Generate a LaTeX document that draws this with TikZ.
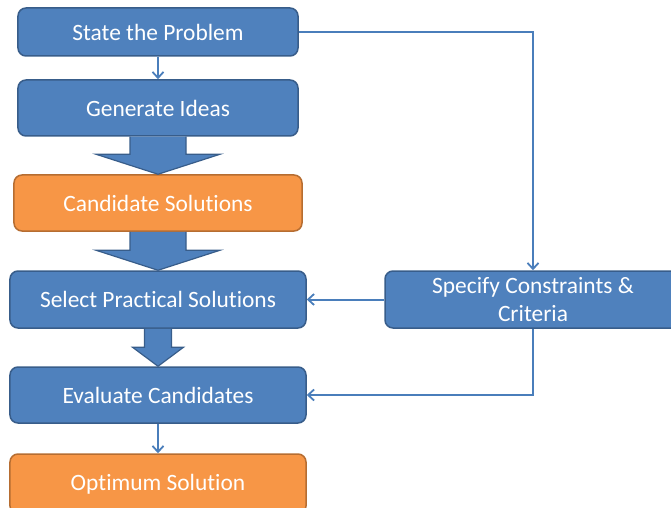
\documentclass[tikz,border=0pt]{standalone}
\usepackage{fontspec}
\setmainfont{Carlito}[Ligatures=NoCommon]
\usetikzlibrary{arrows.meta,calc}
\definecolor{bfill}{HTML}{4F81BD}
\definecolor{bdraw}{HTML}{385D8A}
\definecolor{ofill}{HTML}{F79646}
\definecolor{odraw}{HTML}{B66D31}
\definecolor{lcol}{HTML}{4A7EBB}
\tikzset{
  box/.style={rectangle, rounded corners=8bp, line width=1.5bp, text=white, font=\fontsize{23.5}{28}\selectfont, align=center, inner sep=0pt},
  bluebox/.style={box, fill=bfill, draw=bdraw},
  orangebox/.style={box, fill=ofill, draw=odraw},
  conn/.style={draw=lcol, line width=2bp, -{Straight Barb[length=6bp,width=11bp,line width=1.8bp]}},
  bigarr/.style={fill=bfill, draw=bdraw, line width=1.2bp, line join=miter}
}
\newcommand\fatarrow[5]{%
  \draw[bigarr] ($(#1)+(-#3,0)$) -- ($(#2)+(-#3,-#5)$) -- ($(#2)+(-#4,-#5)$) -- (#2)
    -- ($(#2)+(#4,-#5)$) -- ($(#2)+(#3,-#5)$) -- ($(#1)+(#3,0)$);}
\begin{document}
\begin{tikzpicture}[x=1bp,y=-1bp]
\useasboundingbox (0,0) rectangle (671,508);
\clip (0,0) rectangle (671,508);
\node[bluebox, minimum width=280bp, minimum height=48bp] (s) at (158,32) {State the Problem};
\node[bluebox, minimum width=280bp, minimum height=56bp] (g) at (158,108) {Generate Ideas};
\node[orangebox, minimum width=288bp, minimum height=56bp] (c) at (158,203) {Candidate Solutions};
\node[bluebox, minimum width=296bp, minimum height=57bp] (p) at (158,299.5) {Select Practical Solutions};
\node[bluebox, minimum width=296bp, minimum height=56bp] (e) at (158,395) {Evaluate Candidates};
\node[orangebox, minimum width=296bp, minimum height=60bp] (o) at (158,484) {Optimum Solution};
\node[bluebox, minimum width=296bp, minimum height=57bp] (sp) at (533,299.5) {Specify Constraints \&\\Criteria};
\fatarrow{g.south}{c.north}{28}{62}{20}
\fatarrow{c.south}{p.north}{28}{62}{20}
\fatarrow{p.south}{e.north}{13.5}{25.5}{19}
\draw[conn] (s.south) -- (g.north);
\draw[conn] (e.south) -- (o.north);
\draw[conn] (s.east) -| (sp.north);
\draw[conn] (sp.west) -- (p.east);
\draw[conn] (sp.south) |- (e.east);
\end{tikzpicture}
\end{document}
